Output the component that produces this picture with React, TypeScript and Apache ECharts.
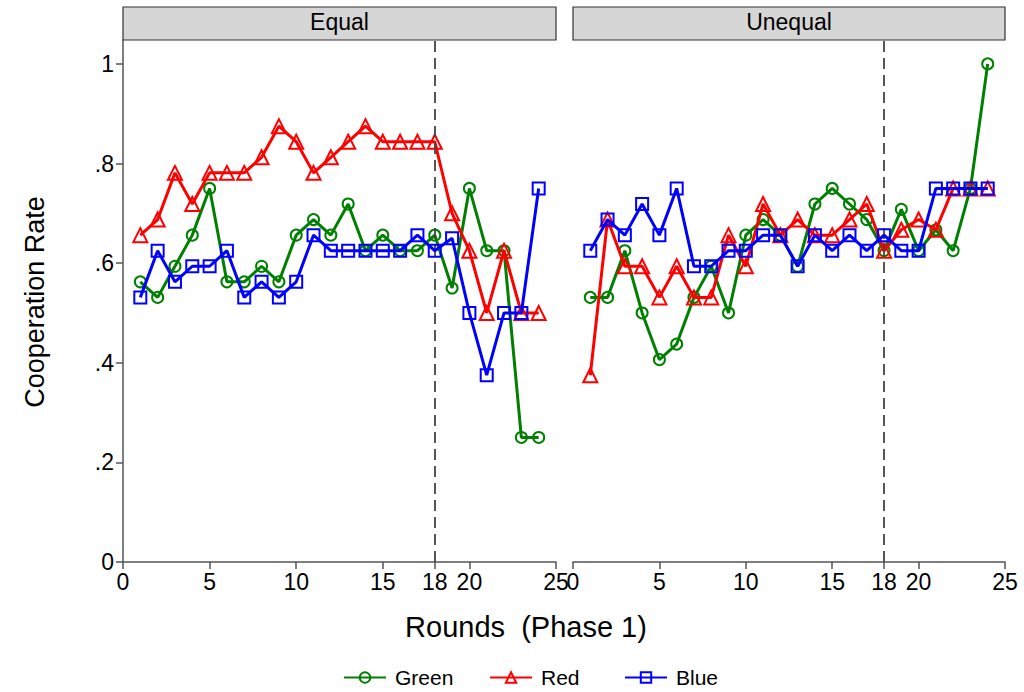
import React, { useEffect, useRef } from "react";
import * as echarts from "echarts";

const rounds = [1,2,3,4,5,6,7,8,9,10,11,12,13,14,15,16,17,18,19,20,21,22,23,24];

const eqGreen = [0.5625,0.53125,0.59375,0.65625,0.75,0.5625,0.5625,0.59375,0.5625,0.65625,0.6875,0.65625,0.71875,0.625,0.65625,0.625,0.625,0.65625,0.55,0.75,0.625,0.625,0.25,0.25];
const eqRed = [0.65625,0.6875,0.78125,0.71875,0.78125,0.78125,0.78125,0.8125,0.875,0.84375,0.78125,0.8125,0.84375,0.875,0.84375,0.84375,0.84375,0.84375,0.7,0.625,0.5,0.625,0.5,0.5];
const eqBlue = [0.53125,0.625,0.5625,0.59375,0.59375,0.625,0.53125,0.5625,0.53125,0.5625,0.65625,0.625,0.625,0.625,0.625,0.625,0.65625,0.625,0.65,0.5,0.375,0.5,0.5,0.75];

const uneqGreen = [0.53125,0.53125,0.625,0.5,0.40625,0.4375,0.53125,0.59375,0.5,0.65625,0.6875,0.65625,0.59375,0.71875,0.75,0.71875,0.6875,0.625,0.708,0.625,0.667,0.625,0.75,1];
const uneqRed = [0.375,0.6875,0.59375,0.59375,0.53125,0.59375,0.53125,0.53125,0.65625,0.59375,0.71875,0.65625,0.6875,0.65625,0.65625,0.6875,0.71875,0.625,0.667,0.6875,0.667,0.75,0.75,0.75];
const uneqBlue = [0.625,0.6875,0.65625,0.71875,0.65625,0.75,0.59375,0.59375,0.625,0.625,0.65625,0.65625,0.59375,0.65625,0.625,0.65625,0.625,0.65625,0.625,0.625,0.75,0.75,0.75,0.75];

const panels = ["Equal", "Unequal"];
const xTicks = [0, 5, 10, 15, 18, 20, 25];
const yTicks = [0, 0.2, 0.4, 0.6, 0.8, 1];
const phaseBreak = 18;

const FONT = "'Liberation Sans', Arial, Helvetica, sans-serif";
const AXIS_COLOR = "#555555";

const groups = [
  { name: "Green", color: "#008000", symbol: "circle", size: 11, data: [eqGreen, uneqGreen] },
  { name: "Red", color: "#ff0000", symbol: "triangle", size: 14, data: [eqRed, uneqRed] },
  { name: "Blue", color: "#0000ff", symbol: "rect", size: 12, data: [eqBlue, uneqBlue] },
];
const legendLefts = [338, 484, 619];

export default function App() {
  const ref = useRef<HTMLDivElement>(null);
  useEffect(() => {
    if (!ref.current) return;
    const chart = echarts.init(ref.current, null, { renderer: "svg" });

    const grids = [
      { left: 123, right: 468, top: 40, bottom: 130 },
      { left: 573, right: 19, top: 40, bottom: 130 },
    ];

    const xAxes = grids.map((_, i) => ({
      gridIndex: i,
      type: "value",
      min: 0,
      max: 25,
      axisLine: { show: true, onZero: false, lineStyle: { color: AXIS_COLOR, width: 1.5 } },
      axisTick: { show: true, customValues: xTicks, length: 7, lineStyle: { color: AXIS_COLOR, width: 1.5 } },
      axisLabel: { customValues: xTicks, fontSize: 23, color: "#000", margin: 8, fontFamily: FONT },
      splitLine: { show: false },
    }));

    const yAxes = grids.map((_, i) =>
      i === 0
        ? {
            gridIndex: 0,
            type: "value",
            min: 0,
            max: 1.048,
            axisLine: { show: true, lineStyle: { color: AXIS_COLOR, width: 1.5 } },
            axisTick: { show: true, customValues: yTicks, length: 7, lineStyle: { color: AXIS_COLOR, width: 1.5 } },
            axisLabel: {
              customValues: yTicks,
              fontSize: 23,
              color: "#000",
              margin: 9,
              fontFamily: FONT,
              formatter: (v: number) => (v === 0 ? "0" : v === 1 ? "1" : String(Math.round(v * 10) / 10).replace("0.", ".")),
            },
            splitLine: { show: false },
          }
        : {
            gridIndex: 1,
            type: "value",
            min: 0,
            max: 1.048,
            axisLine: { show: false },
            axisTick: { show: false },
            axisLabel: { show: false },
            splitLine: { show: false },
          }
    );

    const series: any[] = [];
    panels.forEach((_, p) => {
      groups.forEach((g, gi) => {
        const s: any = {
          type: "line",
          name: g.name,
          xAxisIndex: p,
          yAxisIndex: p,
          data: rounds.map((r, k) => [r, g.data[p][k]]),
          symbol: g.symbol,
          symbolSize: g.size,
          showAllSymbol: true,
          lineStyle: { color: g.color, width: 3 },
          itemStyle: { color: "rgba(255,255,255,0)", borderColor: g.color, borderWidth: 2 },
          z: 3 + gi,
        };
        if (gi === 0) {
          s.markLine = {
            silent: true,
            symbol: ["none", "none"],
            label: { show: false },
            lineStyle: { type: [11, 6], color: "#444444", width: 1.8 },
            data: [{ xAxis: phaseBreak }],
          };
        }
        series.push(s);
      });
    });

    const strips = panels.map((t, i) => {
      const left = i === 0 ? 123 : 573;
      const right = i === 0 ? 556 : 1005;
      return {
        type: "group",
        children: [
          {
            type: "rect",
            shape: { x: left, y: 7, width: right - left, height: 33 },
            style: { fill: "#d6d6d6", stroke: "#333333", lineWidth: 1.2 },
          },
          {
            type: "text",
            x: (left + right) / 2,
            y: 22,
            style: { text: t, fontSize: 23, fontFamily: FONT, fill: "#000", align: "center", verticalAlign: "middle" },
          },
        ],
      };
    });

    const legends = groups.map((g, i) => ({
      left: legendLefts[i],
      top: 662,
      itemWidth: 42,
      itemHeight: 13,
      data: [g.name],
      textStyle: { fontSize: 21, fontFamily: FONT, color: "#000", padding: [0, 0, 0, 4] },
    }));

    chart.setOption({
      animation: false,
      backgroundColor: "#ffffff",
      grid: grids,
      xAxis: xAxes,
      yAxis: yAxes,
      series,
      legend: legends,
      graphic: [
        ...strips,
        {
          type: "text",
          x: 526,
          y: 627,
          style: { text: "Rounds  (Phase 1)", fontSize: 29, fontFamily: FONT, fill: "#000", align: "center", verticalAlign: "middle" },
        },
        {
          type: "text",
          x: 35,
          y: 302,
          rotation: Math.PI / 2,
          style: { text: "Cooperation Rate", fontSize: 27, fontFamily: FONT, fill: "#000", align: "center", verticalAlign: "middle" },
        },
      ],
    });

    return () => chart.dispose();
  }, []);

  return <div ref={ref} style={{ position: "fixed", left: 0, top: 0, width: 1024, height: 692 }} />;
}
